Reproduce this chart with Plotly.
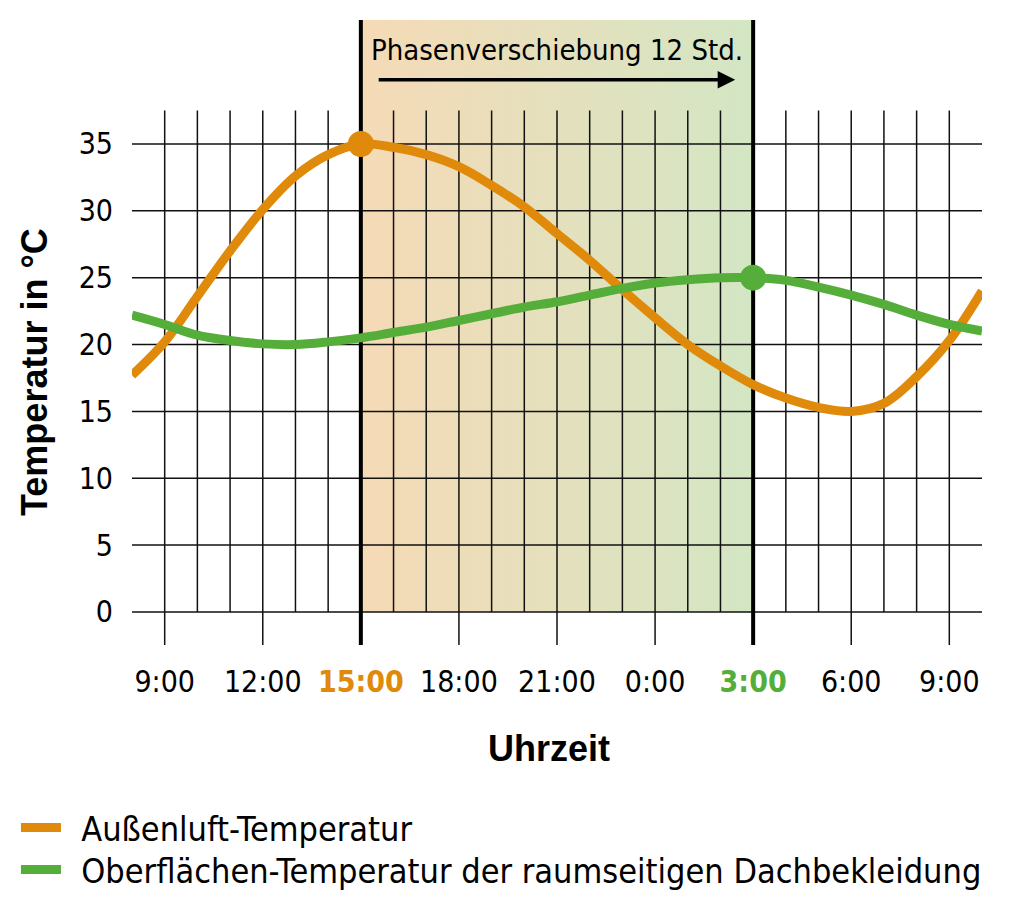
import plotly.graph_objects as go

# Stunden ab 8:00 (24 = 0:00 am Folgetag)
hours = list(range(8, 35))
aussenluft = [17.7, 20.2, 23.6, 27.0, 30.1, 32.6, 34.2, 35.0, 34.75, 34.2, 33.3, 31.9, 30.3,
              28.3, 26.3, 24.1, 22.0, 20.0, 18.4, 17.0, 16.0, 15.3, 15.0, 15.6, 17.6, 20.3, 24.0]
oberflaeche = [22.2, 21.5, 20.7, 20.3, 20.05, 20.0, 20.2, 20.5, 20.9, 21.3, 21.8, 22.3, 22.8,
               23.2, 23.7, 24.2, 24.6, 24.85, 25.0, 25.0, 24.8, 24.3, 23.7, 23.0, 22.2, 21.5, 21.0]

tick_hours = [9, 12, 15, 18, 21, 24, 27, 30, 33]
tick_labels = ["9:00", "12:00", "15:00", "18:00", "21:00", "0:00", "3:00", "6:00", "9:00"]
temp_ticks = [0, 5, 10, 15, 20, 25, 30, 35]

max_aussen_hour = 15
max_innen_hour = 27
max_aussen = 35.0
max_innen = 25.0

ORANGE = "#E08A0B"
GREEN = "#55AE3A"
TXT = "DejaVu Sans Condensed, DejaVu Sans, sans-serif"
BOLD = "Liberation Sans, Arial, sans-serif"

x_min, x_max = hours[0], hours[-1]
y_min, y_max = -2.47, 44.27
grid_top = 37.5

fig = go.Figure()

# Verlauf-Hintergrund fuer die Phasenverschiebung
fig.add_trace(go.Scatter(
    x=[max_aussen_hour, max_innen_hour, max_innen_hour, max_aussen_hour, max_aussen_hour],
    y=[0, 0, y_max, y_max, 0],
    mode="lines", line=dict(width=0), fill="toself",
    fillgradient=dict(type="horizontal",
                      colorscale=[[0, "#F6DAB6"], [1, "#D3E6C4"]]),
    hoverinfo="skip", showlegend=False,
))

# Raster
gx, gy = [], []
for h in range(x_min + 1, x_max):
    gx += [h, h, None]
    gy += [y_min if h in tick_hours else 0, grid_top, None]
for t in temp_ticks:
    gx += [x_min, x_max, None]
    gy += [t, t, None]
fig.add_trace(go.Scatter(x=gx, y=gy, mode="lines", line=dict(color="#111", width=1.5),
                         hoverinfo="skip", showlegend=False))

fig.add_trace(go.Scatter(
    x=[max_aussen_hour, max_aussen_hour, None, max_innen_hour, max_innen_hour],
    y=[y_min, y_max, None, y_min, y_max],
    mode="lines", line=dict(color="black", width=4), hoverinfo="skip", showlegend=False))

fig.add_trace(go.Scatter(x=hours, y=aussenluft, mode="lines",
                         name="\u2002Außenluft-Temperatur",
                         line=dict(color=ORANGE, width=9, shape="spline"), legend="legend"))
fig.add_trace(go.Scatter(x=hours, y=oberflaeche, mode="lines",
                         name="\u2002Oberflächen-Temperatur der raumseitigen Dachbekleidung",
                         line=dict(color=GREEN, width=9, shape="spline"), legend="legend2"))

fig.add_trace(go.Scatter(x=[max_aussen_hour], y=[max_aussen], mode="markers",
                         marker=dict(color=ORANGE, size=26), showlegend=False))
fig.add_trace(go.Scatter(x=[max_innen_hour], y=[max_innen], mode="markers",
                         marker=dict(color=GREEN, size=26), showlegend=False))

ticktext = []
for h, lab in zip(tick_hours, tick_labels):
    if h == max_aussen_hour:
        lab = f"<b><span style='color:{ORANGE}'>{lab}</span></b>"
    elif h == max_innen_hour:
        lab = f"<b><span style='color:{GREEN}'>{lab}</span></b>"
    ticktext.append(lab)

fig.add_annotation(x=max_innen_hour - 0.55, y=39.8, ax=max_aussen_hour + 0.5, ay=39.8,
                   xref="x", yref="y", axref="x", ayref="y", text="",
                   showarrow=True, arrowhead=2, arrowsize=1, arrowwidth=3.5, arrowcolor="black")
fig.add_annotation(x=(max_aussen_hour + max_innen_hour) / 2, y=42.0, xref="x", yref="y",
                   text="Phasenverschiebung 12 Std.", showarrow=False,
                   font=dict(family=TXT, size=29, color="black"))

fig.add_annotation(x=0.4906, y=-0.165, xref="paper", yref="paper", text="<b>Uhrzeit</b>",
                   xanchor="center", yanchor="middle", showarrow=False,
                   font=dict(family=BOLD, size=36, color="black"))
fig.add_annotation(x=-0.114, y=0.437, xref="paper", yref="paper", textangle=-90,
                   xanchor="center", yanchor="middle",
                   text="<b>Temperatur in °C</b>", showarrow=False,
                   font=dict(family=BOLD, size=36, color="black"))

leg = dict(xref="container", yref="container", x=0.0078, xanchor="left", yanchor="middle",
           font=dict(family=TXT, size=34), itemwidth=40, bgcolor="rgba(0,0,0,0)")

fig.update_layout(
    width=1022, height=900,
    margin=dict(l=124, r=48, t=12, b=263, autoexpand=False),
    paper_bgcolor="white", plot_bgcolor="white",
    font=dict(family=TXT, color="black"),
    showlegend=True,
    legend=dict(leg, y=1 - 820 / 900),
    legend2=dict(leg, y=1 - 862 / 900),
    xaxis=dict(range=[x_min, x_max], tickvals=tick_hours, ticktext=ticktext,
               tickfont=dict(size=30, family=TXT), ticks="outside", ticklen=10,
               tickcolor="rgba(0,0,0,0)", showgrid=False, zeroline=False, showline=False,
               automargin=False),
    yaxis=dict(range=[y_min, y_max], tickvals=temp_ticks,
               tickfont=dict(size=30, family=TXT), ticks="outside", ticklen=12,
               tickcolor="rgba(0,0,0,0)", showgrid=False, zeroline=False, showline=False,
               automargin=False),
)

fig.write_html("out.html")
